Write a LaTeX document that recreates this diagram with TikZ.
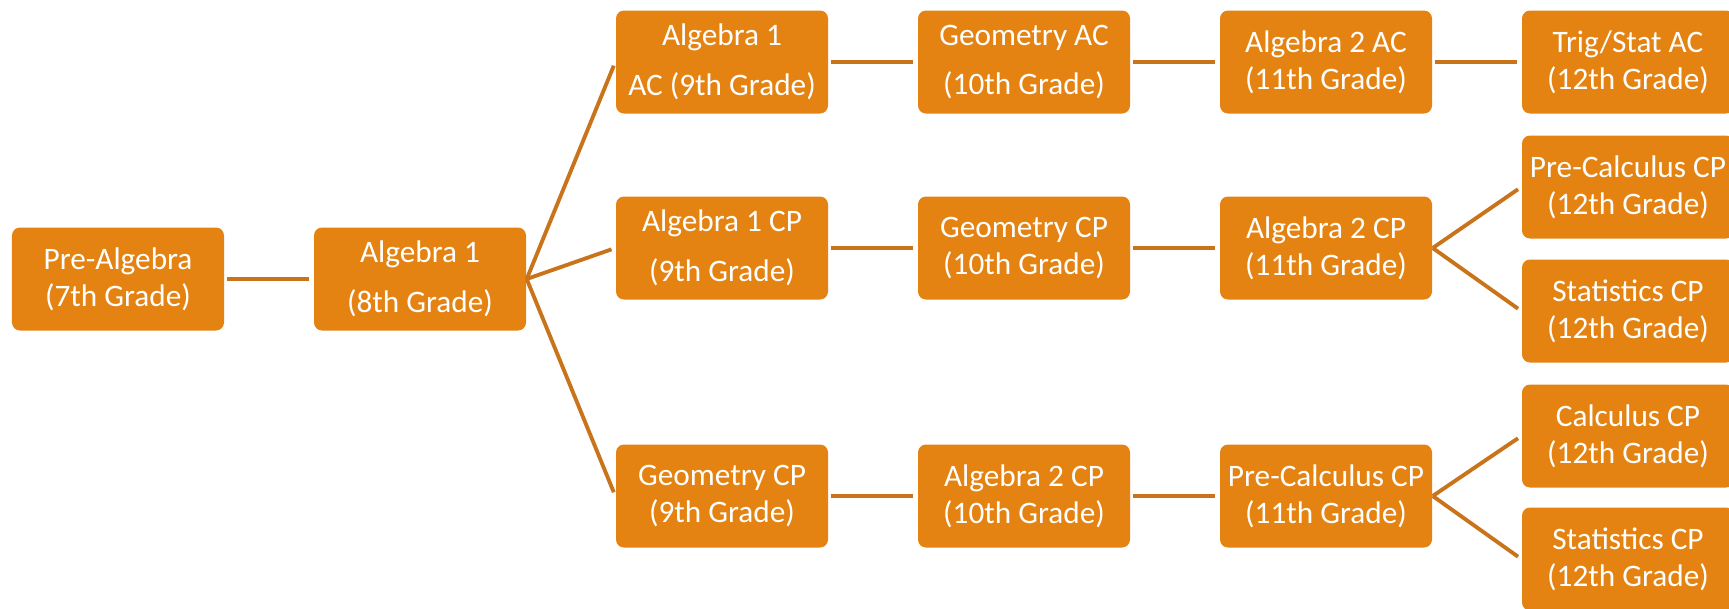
\documentclass[tikz,border=0pt]{standalone}
\usepackage{fontspec}
\setmainfont{Carlito}
\definecolor{boxorange}{HTML}{E48312}
\definecolor{linkorange}{HTML}{C9741A}
\begin{document}
\begin{tikzpicture}[
  course/.style={fill=boxorange, text=white, rounded corners=0.08cm,
    minimum width=2.12cm, minimum height=1.03cm, inner sep=0pt, align=center,
    font=\fontsize{8.9}{10.5}\selectfont},
  course wide/.style={course, font=\fontsize{8.9}{14.2}\selectfont},
  link/.style={draw=linkorange, line width=1.1pt, shorten <=0.02cm, shorten >=0.04cm}]
\useasboundingbox (0,0) rectangle (17.29,6.08);
% 7th and 8th grade
\node[course] (prealg) at (1.18,3.29) {Pre-Algebra\\(7th Grade)};
\node[course wide] (alg) at (4.20,3.29) {Algebra 1\\(8th Grade)};
\draw[link] (prealg) -- (alg);

% AC track
\node[course wide] (algac) at (7.22,5.46) {Algebra 1\\AC (9th Grade)};
\node[course wide] (geoac) at (10.24,5.46) {Geometry AC\\(10th Grade)};
\node[course] (algtwoac) at (13.26,5.46) {Algebra 2 AC\\(11th Grade)};
\node[course] (trigac) at (16.28,5.46) {Trig/Stat AC\\(12th Grade)};
\draw[link] (algac) -- (geoac);
\draw[link] (geoac) -- (algtwoac);
\draw[link] (algtwoac) -- (trigac);

% CP track
\node[course wide] (algcp) at (7.22,3.60) {Algebra 1 CP\\(9th Grade)};
\node[course] (geocp) at (10.24,3.60) {Geometry CP\\(10th Grade)};
\node[course] (algtwocp) at (13.26,3.60) {Algebra 2 CP\\(11th Grade)};
\node[course] (precalcA) at (16.28,4.21) {Pre-Calculus CP\\(12th Grade)};
\node[course] (statsA) at (16.28,2.97) {Statistics CP\\(12th Grade)};
\draw[link] (algcp) -- (geocp);
\draw[link] (geocp) -- (algtwocp);
\draw[link, shorten <=0pt] (algtwocp.east) -- (precalcA.west);
\draw[link, shorten <=0pt] (algtwocp.east) -- (statsA.west);

% accelerated CP track
\node[course] (geocpB) at (7.22,1.12) {Geometry CP\\(9th Grade)};
\node[course] (algtwocpB) at (10.24,1.12) {Algebra 2 CP\\(10th Grade)};
\node[course] (precalcB) at (13.26,1.12) {Pre-Calculus CP\\(11th Grade)};
\node[course] (calcB) at (16.28,1.72) {Calculus CP\\(12th Grade)};
\node[course] (statsB) at (16.28,0.49) {Statistics CP\\(12th Grade)};
\draw[link] (geocpB) -- (algtwocpB);
\draw[link] (algtwocpB) -- (precalcB);
\draw[link, shorten <=0pt] (precalcB.east) -- (calcB.west);
\draw[link, shorten <=0pt] (precalcB.east) -- (statsB.west);

% branches out of Algebra 1
\draw[link, shorten <=0pt] (alg.east) -- (algac.west);
\draw[link, shorten <=0pt] (alg.east) -- (algcp.west);
\draw[link, shorten <=0pt] (alg.east) -- (geocpB.west);
\end{tikzpicture}
\end{document}
